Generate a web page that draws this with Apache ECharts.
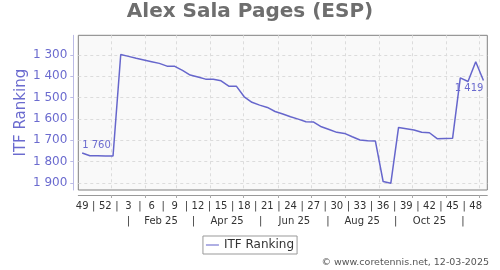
<!DOCTYPE html>
<html><head><meta charset="utf-8">
<script src="https://cdn.jsdelivr.net/npm/echarts@6/dist/echarts.min.js"></script>
<style>html,body{margin:0;padding:0;background:#fff}#c{width:500px;height:270px}</style>
</head><body><div id="c"></div>
<script>
const titleText = 'Alex Sala Pages (ESP)';
const seriesName = 'ITF Ranking';
const copyrightText = '\u00A9 www.coretennis.net, 12-03-2025';
// ISO weeks of the ranking (starting 2024-W49)
const firstYear = 2024;
const rankWeeks = [49,50,51,52,1,2,3,4,5,6,7,8,9,10,11,12,13,14,15,16,17,18,19,20,21,22,23,24,25,26,27,28,29,30,31,32,33,34,35,36,37,38,39,40,41,42,43,44,45,46,47,48,49];
const rankValues = [1760,1773,1773,1774,1774,1297,1306,1315,1323,1331,1339,1352,1353,1372,1394,1403,1413,1414,1421,1446,1447,1496,1522,1535,1546,1565,1577,1590,1601,1613,1615,1637,1650,1663,1668,1684,1699,1702,1704,1894,1902,1640,1646,1652,1663,1665,1693,1692,1691,1407,1424,1331,1419];
const labeledPoints = [0, 52];
const weekTickLabels = [49,52,3,6,9,12,15,18,21,24,27,30,33,36,39,42,45,48];
const gridMonths = ['2025-01','2025-02','2025-03','2025-04','2025-05','2025-06','2025-07','2025-08','2025-09','2025-10','2025-11','2025-12'];
const monthLabelMonths = ['2025-02','2025-04','2025-06','2025-08','2025-10'];
const monthLabels = ['Feb 25','Apr 25','Jun 25','Aug 25','Oct 25'];
const monthSeparatorMonths = ['2025-01','2025-03','2025-05','2025-07','2025-09','2025-11'];
const yTicks = [1300,1400,1500,1600,1700,1800,1900];
const yMin = 1207, yMax = 1934;

const DAY = 86400000;
function isoWeekMonday(y, w){ const jan4 = Date.UTC(y,0,4); const dow = (new Date(jan4).getUTCDay()+6)%7; return jan4 - dow*DAY + (w-1)*7*DAY; }
function weekMid(y, w){ return isoWeekMonday(y, w) + 3.5*DAY; }
function ym(s){ const p = s.split('-').map(Number); return p; }
function monthStart(s){ const [y,m] = ym(s); return Date.UTC(y, m-1, 1); }
function monthMid(s){ const [y,m] = ym(s); return (Date.UTC(y, m-1, 1) + Date.UTC(y, m, 1)) / 2; }
function withYears(list){ let y = firstYear, prev = -1; return list.map(w => { if (w < prev) y++; prev = w; return [y, w]; }); }
function fmt(v){ return String(v).replace(/\B(?=(\d{3})+(?!\d))/g, ' '); }

const xMin = isoWeekMonday(2024, 49), xMax = isoWeekMonday(2025, 50);
const pointX = withYears(rankWeeks).map(([y,w]) => weekMid(y,w));
const weekTickX = withYears(weekTickLabels).map(([y,w]) => weekMid(y,w));

const weekRow = new Map();
weekTickX.forEach((x,i) => { weekRow.set(x, String(weekTickLabels[i])); if (i < weekTickX.length-1) weekRow.set((x + weekTickX[i+1]) / 2, '|'); });
const monthRow = new Map();
monthLabelMonths.forEach((m,i) => monthRow.set(monthMid(m), monthLabels[i]));
monthSeparatorMonths.forEach(m => monthRow.set(monthMid(m), '|'));

const FONT = 'DejaVu Sans';
const LINE = '#6666cc';
const BLUE = '#6b6bcf';

const data = pointX.map((x,i) => {
  const item = { value: [x, rankValues[i]] };
  if (labeledPoints.includes(i)) {
    const last = i === rankValues.length - 1;
    item.label = { show: true, position: last ? 'bottom' : 'top', align: last ? 'right' : 'left', distance: 3,
      formatter: p => fmt(p.value[1]), fontSize: 10, color: BLUE, fontFamily: FONT };
  }
  return item;
});

const chart = echarts.init(document.getElementById('c'), null, { renderer: 'canvas' });
chart.setOption({
  animation: false,
  backgroundColor: '#fff',
  title: { text: titleText, left: 'center', top: -3, textStyle: { fontFamily: FONT, fontSize: 20, fontWeight: 'bold', color: '#6e6e6e' } },
  grid: { left: 78.3, right: 12.7, top: 35.3, bottom: 80, show: true, backgroundColor: '#f9f9f9', borderColor: '#808080', borderWidth: 1, containLabel: false },
  legend: { data: [{ name: seriesName, icon: 'path://M0,0H20V1.6H0Z' }], top: 236, left: 'center', orient: 'horizontal',
    padding: [3,3,3,3], itemWidth: 13, itemHeight: 14, itemGap: 5, borderColor: '#999', borderWidth: 1,
    textStyle: { fontFamily: FONT, fontSize: 12, color: '#333' } },
  xAxis: [
    { type: 'value', min: xMin, max: xMax, position: 'bottom', offset: 5,
      axisLine: { show: true, lineStyle: { color: '#999', width: 1 } },
      axisTick: { show: true, customValues: gridMonths.map(monthStart), length: 3, lineStyle: { color: '#aaa' } },
      splitLine: { show: true, lineStyle: { color: '#dcdcdc', type: [3,3] } },
      axisLabel: { customValues: Array.from(weekRow.keys()), formatter: v => weekRow.get(v) || '', fontFamily: FONT, fontSize: 10, color: '#333', margin: 6 } },
    { type: 'value', min: xMin, max: xMax, position: 'bottom', offset: 20,
      axisLine: { show: false }, axisTick: { show: false }, splitLine: { show: false },
      axisLabel: { customValues: Array.from(monthRow.keys()), formatter: v => monthRow.get(v) || '', fontFamily: FONT, fontSize: 10, color: '#333', margin: 6 } }
  ],
  yAxis: {
    type: 'value', inverse: true, min: yMin, max: yMax, position: 'left', offset: 5,
    name: seriesName, nameLocation: 'middle', nameGap: 45, nameRotate: 90, nameMoveOverlap: false,
    nameTextStyle: { fontFamily: FONT, fontSize: 15, color: BLUE },
    axisLine: { show: true, lineStyle: { color: '#bbbbe6' } },
    axisTick: { show: true, customValues: yTicks, length: 3, lineStyle: { color: '#bbbbe6' } },
    splitLine: { show: true, lineStyle: { color: '#dcdcdc', type: [3,3] } },
    axisLabel: { customValues: yTicks, formatter: v => fmt(v), fontFamily: FONT, fontSize: 12, color: BLUE, margin: 6 }
  },
  graphic: [{ type: 'text', right: 11, top: 258, style: { text: copyrightText, font: '9.5px "DejaVu Sans"', fill: '#555' } }],
  series: [{ name: seriesName, type: 'line', xAxisIndex: 0, data: data, showSymbol: true, symbol: 'circle', symbolSize: 0,
    lineStyle: { color: LINE, width: 1.5 }, itemStyle: { color: LINE }, emphasis: { disabled: true } }]
});
</script></body></html>
